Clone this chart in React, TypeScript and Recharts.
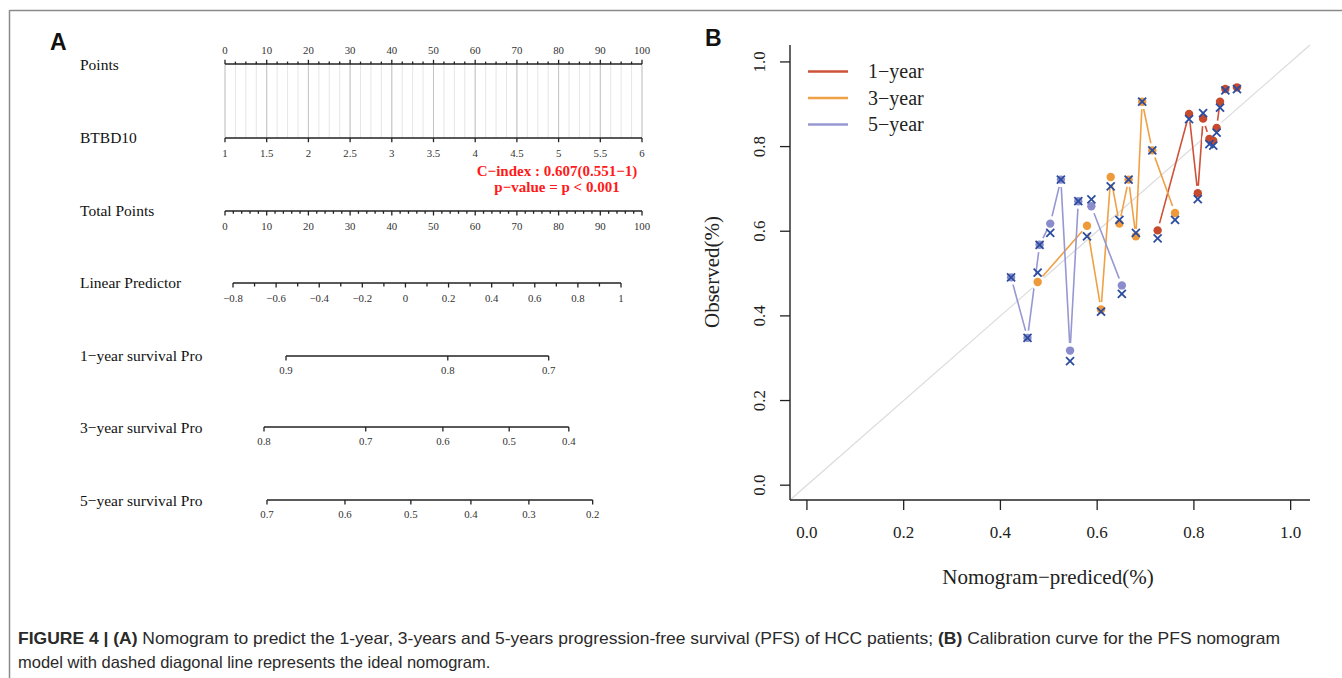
import React from "react";
import {
  ComposedChart,
  LineChart,
  Line,
  Scatter,
  XAxis,
  YAxis,
  ReferenceLine,
  CartesianGrid,
  Legend,
} from "recharts";

const SERIF = '"Liberation Serif", "Times New Roman", Times, serif';
const SANS = '"Liberation Sans", Arial, Helvetica, sans-serif';
const INK = "#222";

// ---------- panel A : nomogram ----------
const pointsLabels = [0, 10, 20, 30, 40, 50, 60, 70, 80, 90, 100];
const btbd10Labels = [1, 1.5, 2, 2.5, 3, 3.5, 4, 4.5, 5, 5.5, 6];
const totalLabels = [0, 10, 20, 30, 40, 50, 60, 70, 80, 90, 100];
const lpLabels = [-0.8, -0.6, -0.4, -0.2, 0, 0.2, 0.4, 0.6, 0.8, 1];

// survival axes: label text and where each sits on the total points scale
const surv1Labels = ["0.9", "0.8", "0.7"];
const surv1Points = [14.7, 53.5, 77.7];
const surv3Labels = ["0.8", "0.7", "0.6", "0.5", "0.4"];
const surv3Points = [9.4, 33.8, 52.3, 68.2, 82.5];
const surv5Labels = ["0.7", "0.6", "0.5", "0.4", "0.3", "0.2"];
const surv5Points = [10.1, 28.8, 44.6, 59.0, 72.9, 88.2];

// ---------- panel B : calibration ----------
const year1Pred = [0.725, 0.79, 0.808, 0.819, 0.832, 0.84, 0.847, 0.854, 0.865, 0.889];
const year1Obs = [0.602, 0.877, 0.69, 0.866, 0.818, 0.814, 0.844, 0.906, 0.936, 0.94];
const year1Cal = [0.583, 0.865, 0.676, 0.879, 0.806, 0.802, 0.833, 0.892, 0.933, 0.936];

const year3Pred = [0.477, 0.579, 0.608, 0.628, 0.646, 0.665, 0.68, 0.693, 0.714, 0.761];
const year3Obs = [0.48, 0.613, 0.415, 0.728, 0.618, 0.722, 0.588, 0.906, 0.791, 0.643];
const year3Cal = [0.502, 0.588, 0.41, 0.706, 0.627, 0.722, 0.596, 0.906, 0.791, 0.627];

const year5Pred = [0.422, 0.456, 0.481, 0.503, 0.525, 0.544, 0.561, 0.588, 0.651];
const year5Obs = [0.491, 0.348, 0.568, 0.618, 0.722, 0.318, 0.671, 0.659, 0.472];
const year5Cal = [0.491, 0.348, 0.568, 0.596, 0.722, 0.293, 0.671, 0.675, 0.452];

const calTicks = [0, 0.2, 0.4, 0.6, 0.8, 1];

// layout of panel A
const P0 = 225; // pixel of 0 points
const PX_PER_PT = 4.17;
const ptsPx = (p: number) => P0 + p * PX_PER_PT;
const LP_SPAN = [233, 621];

const steps = (a: number, b: number, s: number) => {
  const out: number[] = [];
  for (let v = a; v <= b + 1e-9; v += s) out.push(Math.round(v * 1000) / 1000);
  return out;
};
const fmt = (v: number) => (v < 0 ? "\u2212" + String(-v) : String(v));
const hasVal = (arr: number[], v: number) => arr.some((a) => Math.abs(a - v) < 1e-6);

function nomoTick(labelOf: (v: number) => string | null, up: boolean, majorLen: number, minorLen: number) {
  return (props: any) => {
    const { x, y, payload } = props;
    const label = labelOf(payload.value);
    const len = label !== null ? majorLen : minorLen;
    const d = up ? -1 : 1;
    return (
      <g>
        <line x1={x} x2={x} y1={y} y2={y + d * len} stroke={INK} strokeWidth={1.3} />
        {label !== null && (
          <text
            x={x}
            y={up ? y - 10 : y + 18.5}
            textAnchor="middle"
            fontFamily={SERIF}
            fontSize={10.8}
            fill="#333"
          >
            {label}
          </text>
        )}
      </g>
    );
  };
}

type RowProps = {
  lineY: number;
  x0: number;
  x1: number;
  domain: [number, number];
  ticks: number[];
  labelOf: (v: number) => string | null;
  majorLen?: number;
  minorLen?: number;
};

function NomoAxis({ lineY, x0, x1, domain, ticks, labelOf, majorLen = 4.5, minorLen = 2.8 }: RowProps) {
  const pad = 20;
  return (
    <div style={{ position: "absolute", left: x0 - pad, top: lineY - 10 }}>
      <LineChart
        width={x1 - x0 + 2 * pad}
        height={40}
        data={ticks.map((v) => ({ v }))}
        margin={{ top: 0, right: pad, bottom: 0, left: pad }}
      >
        <XAxis
          type="number"
          dataKey="v"
          domain={domain}
          allowDataOverflow
          ticks={ticks}
          interval={0}
          height={30}
          tickSize={0}
          tickMargin={0}
          tickLine={false}
          axisLine={{ stroke: INK, strokeWidth: 1.4 }}
          tick={nomoTick(labelOf, false, majorLen, minorLen)}
        />
        <YAxis hide domain={[0, 1]} />
      </LineChart>
    </div>
  );
}

// Points axis on top, with the pale guide lines hanging down to the BTBD10 axis
function PointsBlock() {
  const pad = 20;
  const top = 64;
  const bottom = 137.5;
  const pointsTicks = steps(0, 100, 2.5);
  return (
    <div style={{ position: "absolute", left: P0 - pad, top: top - 30 }}>
      <LineChart
        width={ptsPx(100) - P0 + 2 * pad}
        height={30 + bottom - top}
        data={pointsTicks.map((v) => ({ v, g: 0.5 }))}
        margin={{ top: 0, right: pad, bottom: 0, left: pad }}
      >
        <CartesianGrid horizontal={false} stroke="#e6e6e6" strokeWidth={1} />
        <XAxis
          orientation="top"
          type="number"
          dataKey="v"
          domain={[0, 100]}
          allowDataOverflow
          ticks={pointsTicks}
          interval={0}
          height={30}
          tickSize={0}
          tickMargin={0}
          tickLine={false}
          axisLine={{ stroke: INK, strokeWidth: 1.4 }}
          tick={nomoTick((v) => (hasVal(pointsLabels, v) ? fmt(v) : null), true, 4.2, 2.4)}
        />
        <YAxis hide type="number" domain={[0, 1]} allowDataOverflow />
        {pointsLabels.map((v) => (
          <ReferenceLine key={v} x={v} stroke="#c4c4c4" strokeWidth={1} ifOverflow="visible" />
        ))}
      </LineChart>
    </div>
  );
}

const rowLabels = [
  { text: "Points", y: 64 },
  { text: "BTBD10", y: 137.5 },
  { text: "Total Points", y: 210.5 },
  { text: "Linear Predictor", y: 282.5 },
  { text: "1\u2212year survival Pro", y: 355.5 },
  { text: "3\u2212year survival Pro", y: 427 },
  { text: "5\u2212year survival Pro", y: 500 },
];

// ---------- panel B helpers ----------
const zip = (pred: number[], obs: number[], cal: number[]) =>
  pred.map((x, i) => ({ x, obs: obs[i], cal: cal[i] }));

const calSeries = [
  { name: "1\u2212year", dot: "#C64A2E", line: "#CE5238", data: zip(year1Pred, year1Obs, year1Cal) },
  { name: "3\u2212year", dot: "#EE9A3A", line: "#F0A045", data: zip(year3Pred, year3Obs, year3Cal) },
  { name: "5\u2212year", dot: "#8B8CCB", line: "#9798D2", data: zip(year5Pred, year5Obs, year5Cal) },
];

const haloShape = (p: any) => <circle cx={p.cx} cy={p.cy} r={7.5} fill="#fff" />;
const dotShape = (color: string) => (p: any) => <circle cx={p.cx} cy={p.cy} r={4.2} fill={color} />;
const crossShape = (p: any) => {
  const s = 4;
  return (
    <g stroke="#2B4C9F" strokeWidth={1.8}>
      <line x1={p.cx - s} y1={p.cy - s} x2={p.cx + s} y2={p.cy + s} />
      <line x1={p.cx - s} y1={p.cy + s} x2={p.cx + s} y2={p.cy - s} />
    </g>
  );
};

const rotatedYTick = (props: any) => {
  const { x, y, payload } = props;
  return (
    <text
      x={x}
      y={y}
      transform={`rotate(-90 ${x} ${y})`}
      textAnchor="middle"
      fontFamily={SERIF}
      fontSize={17}
      fill={INK}
    >
      {Number(payload.value).toFixed(1)}
    </text>
  );
};

const legendContent = () => (
  <svg width={170} height={90}>
    {calSeries.map((s, i) => {
      const y = 15.5 + i * 26.5;
      return (
        <g key={s.name}>
          <line x1={0} x2={40} y1={y} y2={y} stroke={s.line} strokeWidth={2.6} />
          <text x={60} y={y + 6.5} fontFamily={SERIF} fontSize={20} fill={INK}>
            {s.name}
          </text>
        </g>
      );
    })}
  </svg>
);

function Calibration() {
  const lo = -0.035;
  const hi = 1.04;
  return (
    <div style={{ position: "absolute", left: 690, top: 20 }}>
      <ComposedChart width={640} height={580} margin={{ top: 25, right: 20, bottom: 40, left: 40 }}>
        <XAxis
          type="number"
          dataKey="x"
          domain={[lo, hi]}
          allowDataOverflow
          ticks={calTicks}
          interval={0}
          height={60}
          tickSize={10}
          tickMargin={16}
          tickFormatter={(v: number) => v.toFixed(1)}
          tick={{ fontFamily: SERIF, fontSize: 17, fill: INK }}
          tickLine={{ stroke: INK, strokeWidth: 1.3 }}
          axisLine={{ stroke: INK, strokeWidth: 1.4 }}
        />
        <YAxis
          type="number"
          domain={[lo, hi]}
          allowDataOverflow
          ticks={calTicks}
          interval={0}
          width={60}
          tickSize={10}
          tickMargin={15}
          tick={rotatedYTick}
          tickLine={{ stroke: INK, strokeWidth: 1.3 }}
          axisLine={{ stroke: INK, strokeWidth: 1.4 }}
        />
        <ReferenceLine
          segment={[
            { x: lo, y: lo },
            { x: hi, y: hi },
          ]}
          stroke="#dcdcdc"
          strokeWidth={1.3}
          ifOverflow="visible"
        />
        {calSeries.map((s) => (
          <Line
            key={"l" + s.name}
            data={s.data}
            dataKey="obs"
            type="linear"
            stroke={s.line}
            strokeWidth={1.6}
            dot={false}
            activeDot={false}
            isAnimationActive={false}
            legendType="none"
          />
        ))}
        {calSeries.map((s) => (
          <Scatter
            key={"h" + s.name}
            data={s.data}
            dataKey="obs"
            shape={haloShape}
            isAnimationActive={false}
            legendType="none"
          />
        ))}
        {calSeries.map((s) => (
          <Scatter
            key={"d" + s.name}
            data={s.data}
            dataKey="obs"
            shape={dotShape(s.dot)}
            isAnimationActive={false}
            legendType="none"
          />
        ))}
        {calSeries.map((s) => (
          <Scatter
            key={"c" + s.name}
            data={s.data}
            dataKey="cal"
            shape={crossShape}
            isAnimationActive={false}
            legendType="none"
          />
        ))}
        <Legend
          layout="vertical"
          align="center"
          verticalAlign="middle"
          wrapperStyle={{ left: 118, top: 36, width: 170, height: 90 }}
          content={legendContent}
        />
      </ComposedChart>
    </div>
  );
}

export default function App() {
  const totalTicks = steps(0, 100, 2);
  const lpTicks = steps(-0.8, 1, 0.1);
  const survRows = [
    { y: 355.5, labels: surv1Labels, pts: surv1Points },
    { y: 427, labels: surv3Labels, pts: surv3Points },
    { y: 500, labels: surv5Labels, pts: surv5Points },
  ];
  return (
    <div
      style={{
        position: "absolute",
        left: 0,
        top: 0,
        width: 1342,
        height: 678,
        background: "#fff",
        overflow: "hidden",
      }}
    >
      <svg width={1342} height={678} style={{ position: "absolute", left: 0, top: 0 }}>
        <line x1={10} x2={1342} y1={10.5} y2={10.5} stroke="#8a8a8a" strokeWidth={1.5} />
        <line x1={9.5} x2={9.5} y1={10} y2={678} stroke="#8a8a8a" strokeWidth={1.5} />
        <text x={50} y={50} fontFamily={SANS} fontWeight="bold" fontSize={23} fill="#111">
          A
        </text>
        <text x={705} y={46} fontFamily={SANS} fontWeight="bold" fontSize={23} fill="#111">
          B
        </text>
        {rowLabels.map((r) => (
          <text key={r.text} x={80} y={r.y + 5.5} fontFamily={SERIF} fontSize={15.5} fill="#111">
            {r.text}
          </text>
        ))}
        <text x={557} y={175.5} textAnchor="middle" fontFamily={SERIF} fontWeight="bold" fontSize={15} fill="#ff1a1a">
          C{"\u2212"}index : 0.607(0.551{"\u2212"}1)
        </text>
        <text x={557} y={192} textAnchor="middle" fontFamily={SERIF} fontWeight="bold" fontSize={15} fill="#ff1a1a">
          p{"\u2212"}value = p {"<"} 0.001
        </text>
        <text
          x={719}
          y={272}
          transform="rotate(-90 719 272)"
          textAnchor="middle"
          fontFamily={SERIF}
          fontSize={21}
          fill={INK}
        >
          Observed(%)
        </text>
        <text x={1048} y={584} textAnchor="middle" fontFamily={SERIF} fontSize={21} fill={INK}>
          Nomogram{"\u2212"}prediced(%)
        </text>
        <text
          x={18}
          y={643.5}
          fontFamily={SANS}
          fontSize={16.5}
          fill="#2a2a2a"
          textLength={1262}
          lengthAdjust="spacingAndGlyphs"
        >
          <tspan fontWeight="bold">FIGURE 4 | (A)</tspan>
          {" Nomogram to predict the 1-year, 3-years and 5-years progression-free survival (PFS) of HCC patients; "}
          <tspan fontWeight="bold">(B)</tspan>
          {" Calibration curve for the PFS nomogram"}
        </text>
        <text x={18} y={667.5} fontFamily={SANS} fontSize={16.5} fill="#2a2a2a">
          model with dashed diagonal line represents the ideal nomogram.
        </text>
      </svg>

      <PointsBlock />
      <NomoAxis
        lineY={137.5}
        x0={ptsPx(0)}
        x1={ptsPx(100)}
        domain={[1, 6]}
        ticks={btbd10Labels}
        labelOf={(v) => fmt(v)}
        majorLen={4.2}
      />
      <NomoAxis
        lineY={210.5}
        x0={ptsPx(0)}
        x1={ptsPx(100)}
        domain={[0, 100]}
        ticks={totalTicks}
        labelOf={(v) => (hasVal(totalLabels, v) ? fmt(v) : null)}
      />
      <NomoAxis
        lineY={282.5}
        x0={LP_SPAN[0]}
        x1={LP_SPAN[1]}
        domain={[-0.8, 1]}
        ticks={lpTicks}
        labelOf={(v) => (hasVal(lpLabels, v) ? fmt(v) : null)}
        minorLen={3.5}
      />
      {survRows.map((r) => (
        <NomoAxis
          key={r.y}
          lineY={r.y}
          x0={ptsPx(r.pts[0])}
          x1={ptsPx(r.pts[r.pts.length - 1])}
          domain={[r.pts[0], r.pts[r.pts.length - 1]]}
          ticks={r.pts}
          labelOf={(v) => r.labels[r.pts.indexOf(v)] ?? null}
        />
      ))}
      <Calibration />
    </div>
  );
}
